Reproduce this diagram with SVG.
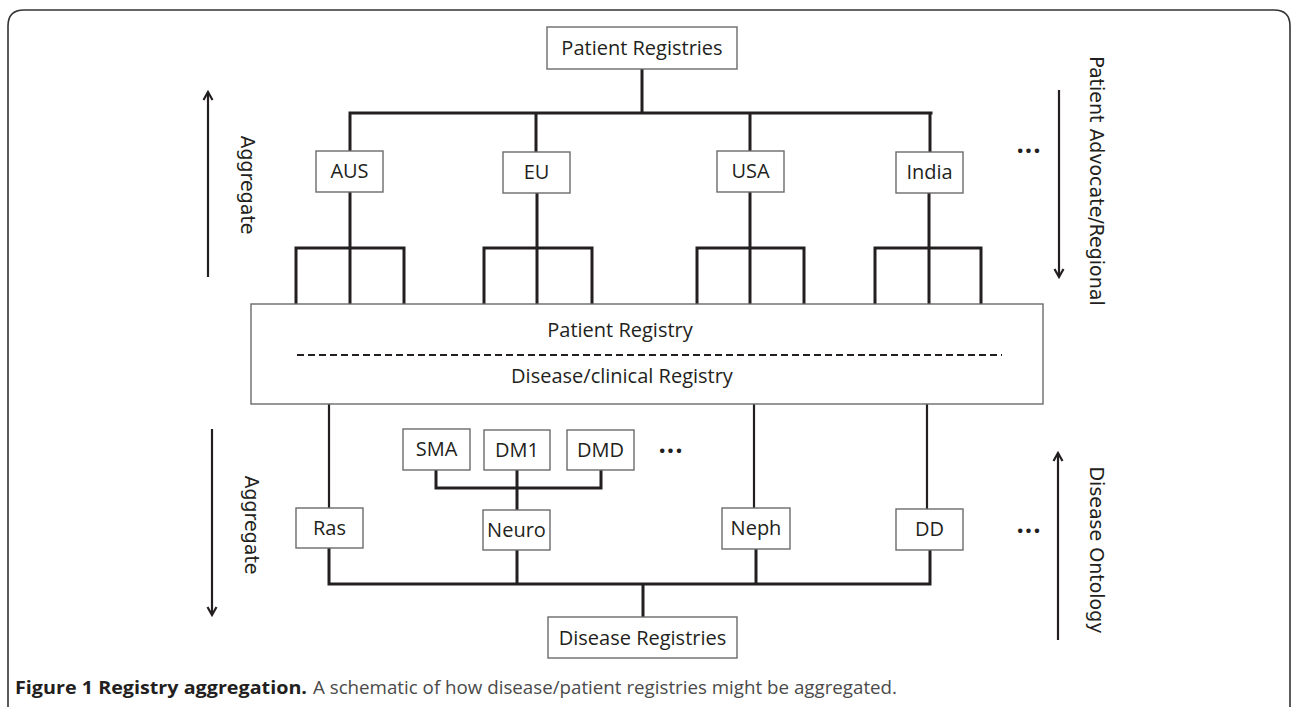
<svg xmlns="http://www.w3.org/2000/svg" width="1292" height="707" viewBox="0 0 1292 707">
<defs>
<marker id="ah" viewBox="0 0 12 12" refX="10" refY="6" markerWidth="12" markerHeight="12" markerUnits="userSpaceOnUse" orient="auto">
<path d="M2,1.5 L10,6 L2,10.5" fill="none" stroke="#231f20" stroke-width="2.2"/>
</marker>
<style>
.frame{fill:none;stroke:#333;stroke-width:1.6}
.box{fill:#fff;stroke:#6b6b6b;stroke-width:1.4}
.lbl{font-family:"Open Sans","Liberation Sans",sans-serif;font-size:20px;fill:#231f20;text-anchor:middle}
.con{fill:none;stroke:#231f20;stroke-width:3;stroke-linecap:square}
.thin{fill:none;stroke:#231f20;stroke-width:2.2}
.dash{fill:none;stroke:#231f20;stroke-width:2;stroke-dasharray:7 4}
.arr{fill:none;stroke:#231f20;stroke-width:2.2;marker-end:url(#ah)}
.side{font-family:"DejaVu Sans","Liberation Sans",sans-serif;font-size:19px;fill:#231f20;text-anchor:middle}
.dots{font-family:"Open Sans","Liberation Sans",sans-serif;font-size:26px;font-weight:bold;fill:#231f20;text-anchor:middle;letter-spacing:1px}
.capb{font-family:"Open Sans","Liberation Sans",sans-serif;font-size:18.5px;font-weight:bold;fill:#231f20}
.capn{font-family:"Open Sans","Liberation Sans",sans-serif;font-size:18.5px;fill:#4a4a4a}
</style>
</defs>
<rect width="1292" height="707" fill="#fff"/>
<path class="frame" d="M8,707 V26 Q8,10 24,10 H1274 Q1290,10 1290,26 V707"/>

<g id="connectors">
<path class="con" d="M642,69 V113 M350,113 H931 M350,113 V151 M536,113 V152 M750,113 V151 M930,113 V152"/>
<path class="con" d="M350,192 V304 M296,304 V248 H404 V304"/>
<path class="con" d="M537,193 V304 M484,304 V248 H592 V304"/>
<path class="con" d="M750,192 V304 M697,304 V248 H804 V304"/>
<path class="con" d="M929,193 V304 M875,304 V248 H981 V304"/>
<path class="thin" d="M329,404 V508 M754,404 V508 M927,404 V510"/>
<path class="con" d="M436,470 V488 H601 V470 M517,470 V510"/>
<path class="con" d="M329,548 V584 H930 V550 M517,550 V584 M756,549 V584 M643,584 V617"/>
</g>

<g id="arrows">
<line class="arr" x1="208" y1="277" x2="208" y2="92"/>
<line class="arr" x1="212" y1="429" x2="212" y2="615"/>
<line class="arr" x1="1059" y1="90" x2="1059" y2="277"/>
<line class="arr" x1="1058" y1="640" x2="1058" y2="453"/>
</g>

<g id="patient-registries"><rect class="box" x="547" y="27" width="190" height="42"/><text class="lbl" x="642" y="55">Patient Registries</text></g>
<g id="aus"><rect class="box" x="316" y="151" width="67" height="41"/><text class="lbl" x="349.5" y="178">AUS</text></g>
<g id="eu"><rect class="box" x="503" y="152" width="67" height="41"/><text class="lbl" x="536.5" y="179">EU</text></g>
<g id="usa"><rect class="box" x="717" y="151" width="67" height="41"/><text class="lbl" x="750.5" y="178">USA</text></g>
<g id="india"><rect class="box" x="896" y="152" width="67" height="41"/><text class="lbl" x="929.5" y="179">India</text></g>

<g id="registry"><rect class="box" x="251" y="304" width="792" height="100"/>
<text class="lbl" x="620" y="337">Patient Registry</text>
<line class="dash" x1="297" y1="355" x2="1002" y2="355"/>
<text class="lbl" x="622" y="383">Disease/clinical Registry</text></g>

<g id="sma"><rect class="box" x="403" y="429" width="67" height="41"/><text class="lbl" x="436.5" y="456">SMA</text></g>
<g id="dm1"><rect class="box" x="484" y="430" width="66" height="40"/><text class="lbl" x="517" y="457">DM1</text></g>
<g id="dmd"><rect class="box" x="567" y="430" width="67" height="40"/><text class="lbl" x="600.5" y="457">DMD</text></g>

<g id="ras"><rect class="box" x="296" y="508" width="67" height="40"/><text class="lbl" x="329.5" y="535">Ras</text></g>
<g id="neuro"><rect class="box" x="483" y="510" width="67" height="40"/><text class="lbl" x="516.5" y="537">Neuro</text></g>
<g id="neph"><rect class="box" x="722" y="508" width="68" height="41"/><text class="lbl" x="756" y="535">Neph</text></g>
<g id="dd"><rect class="box" x="896" y="509" width="67" height="41"/><text class="lbl" x="929.5" y="536">DD</text></g>

<g id="disease-registries"><rect class="box" x="548" y="617" width="189" height="41"/><text class="lbl" x="642.5" y="645">Disease Registries</text></g>

<g id="labels">
<text class="side" transform="translate(241,185) rotate(90)">Aggregate</text>
<text class="side" transform="translate(245,525) rotate(90)">Aggregate</text>
<text class="side" transform="translate(1090,181) rotate(90)">Patient Advocate/Regional</text>
<text class="side" transform="translate(1090,550) rotate(90)">Disease Ontology</text>
<text class="dots" x="1029" y="153">...</text>
<text class="dots" x="671" y="453">...</text>
<text class="dots" x="1029" y="533">...</text>
</g>

<g id="caption">
<text class="capb" x="15" y="694" textLength="292" lengthAdjust="spacingAndGlyphs">Figure 1 Registry aggregation.</text>
<text class="capn" x="313" y="694" textLength="584" lengthAdjust="spacingAndGlyphs">A schematic of how disease/patient registries might be aggregated.</text>
</g>
</svg>
